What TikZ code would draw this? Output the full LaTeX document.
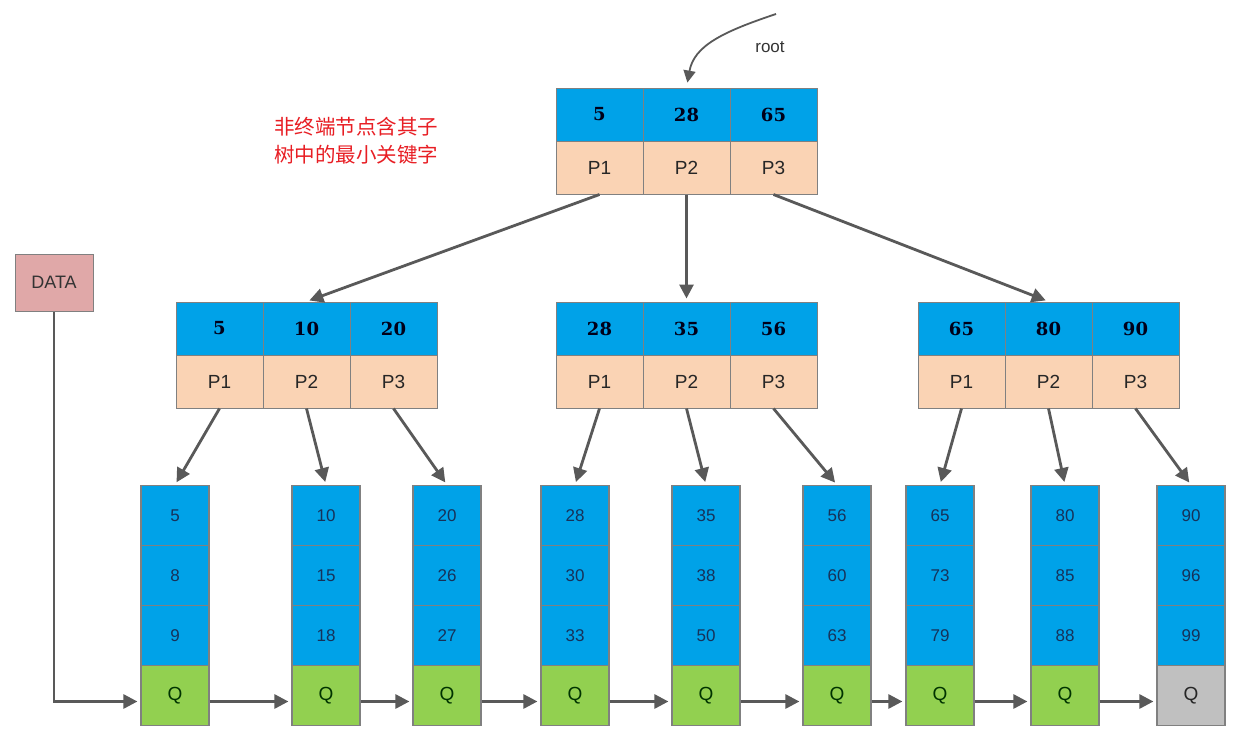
\documentclass[tikz,border=0pt]{standalone}
\usepackage{fontspec}
\setmainfont{Liberation Sans}
\newfontfamily\keyfont{DejaVu Serif}
\newfontfamily\cjk{Noto Sans CJK SC}
\usetikzlibrary{arrows.meta}
\definecolor{keyblue}{RGB}{0,162,232}
\definecolor{peach}{RGB}{250,211,180}
\definecolor{qgreen}{RGB}{146,208,80}
\definecolor{qgray}{RGB}{192,192,192}
\definecolor{edgegray}{RGB}{128,128,128}
\definecolor{arrgray}{RGB}{89,89,89}
\definecolor{datapink}{RGB}{224,168,168}
\definecolor{notered}{RGB}{232,30,36}
\definecolor{leafink}{RGB}{22,50,90}
\begin{document}
\begin{tikzpicture}[x=1pt,y=-1pt]
    \tikzstyle{every node}+=[inner sep=0pt]
    \tikzstyle{cell}=[draw=edgegray,line width=1pt,minimum width=87pt,minimum height=53pt]
    \tikzstyle{keycell}=[cell,fill=keyblue,text=black!90!blue,font=\keyfont\bfseries\fontsize{18}{21}\selectfont]
    \tikzstyle{ptrcell}=[cell,fill=peach,text=black!85,font=\fontsize{19}{22}\selectfont]
    \tikzstyle{leafcell}=[draw=edgegray,line width=1.2pt,minimum width=68pt,minimum height=60pt,fill=keyblue,text=leafink,font=\fontsize{17}{20}\selectfont]
    \tikzstyle{qcell}=[leafcell,fill=qgreen,text=black!80!green,font=\fontsize{19}{22}\selectfont]
    \tikzstyle{qlast}=[qcell,fill=qgray,text=black!85]
    \tikzstyle{arr}=[draw=arrgray,line width=2.8pt,-{Triangle[length=14pt,width=14pt]},shorten >=3pt]
    \useasboundingbox (0,0) rectangle (1237,739);
    \fill [white] (0,0) rectangle (1237,739);
    \node [keycell] (rk1) at (599.5,114.5) {5};
    \node [keycell] (rk2) at (686.5,114.5) {28};
    \node [keycell] (rk3) at (773.5,114.5) {65};
    \node [ptrcell] (rp1) at (599.5,167.5) {P1};
    \node [ptrcell] (rp2) at (686.5,167.5) {P2};
    \node [ptrcell] (rp3) at (773.5,167.5) {P3};
    \node [keycell] (ak1) at (219.5,328.5) {5};
    \node [keycell] (ak2) at (306.5,328.5) {10};
    \node [keycell] (ak3) at (393.5,328.5) {20};
    \node [ptrcell] (ap1) at (219.5,381.5) {P1};
    \node [ptrcell] (ap2) at (306.5,381.5) {P2};
    \node [ptrcell] (ap3) at (393.5,381.5) {P3};
    \node [keycell] (bk1) at (599.5,328.5) {28};
    \node [keycell] (bk2) at (686.5,328.5) {35};
    \node [keycell] (bk3) at (773.5,328.5) {56};
    \node [ptrcell] (bp1) at (599.5,381.5) {P1};
    \node [ptrcell] (bp2) at (686.5,381.5) {P2};
    \node [ptrcell] (bp3) at (773.5,381.5) {P3};
    \node [keycell] (ck1) at (961.5,328.5) {65};
    \node [keycell] (ck2) at (1048.5,328.5) {80};
    \node [keycell] (ck3) at (1135.5,328.5) {90};
    \node [ptrcell] (cp1) at (961.5,381.5) {P1};
    \node [ptrcell] (cp2) at (1048.5,381.5) {P2};
    \node [ptrcell] (cp3) at (1135.5,381.5) {P3};
    \node [leafcell] (l1a) at (175,515.5) {5};
    \node [leafcell] (l1b) at (175,575.5) {8};
    \node [leafcell] (l1c) at (175,635.5) {9};
    \node [qcell] (q1) at (175,695.5) {Q};
    \node [leafcell] (l2a) at (326,515.5) {10};
    \node [leafcell] (l2b) at (326,575.5) {15};
    \node [leafcell] (l2c) at (326,635.5) {18};
    \node [qcell] (q2) at (326,695.5) {Q};
    \node [leafcell] (l3a) at (447,515.5) {20};
    \node [leafcell] (l3b) at (447,575.5) {26};
    \node [leafcell] (l3c) at (447,635.5) {27};
    \node [qcell] (q3) at (447,695.5) {Q};
    \node [leafcell] (l4a) at (575,515.5) {28};
    \node [leafcell] (l4b) at (575,575.5) {30};
    \node [leafcell] (l4c) at (575,635.5) {33};
    \node [qcell] (q4) at (575,695.5) {Q};
    \node [leafcell] (l5a) at (706,515.5) {35};
    \node [leafcell] (l5b) at (706,575.5) {38};
    \node [leafcell] (l5c) at (706,635.5) {50};
    \node [qcell] (q5) at (706,695.5) {Q};
    \node [leafcell] (l6a) at (837,515.5) {56};
    \node [leafcell] (l6b) at (837,575.5) {60};
    \node [leafcell] (l6c) at (837,635.5) {63};
    \node [qcell] (q6) at (837,695.5) {Q};
    \node [leafcell] (l7a) at (940,515.5) {65};
    \node [leafcell] (l7b) at (940,575.5) {73};
    \node [leafcell] (l7c) at (940,635.5) {79};
    \node [qcell] (q7) at (940,695.5) {Q};
    \node [leafcell] (l8a) at (1065,515.5) {80};
    \node [leafcell] (l8b) at (1065,575.5) {85};
    \node [leafcell] (l8c) at (1065,635.5) {88};
    \node [qcell] (q8) at (1065,695.5) {Q};
    \node [leafcell] (l9a) at (1191,515.5) {90};
    \node [leafcell] (l9b) at (1191,575.5) {96};
    \node [leafcell] (l9c) at (1191,635.5) {99};
    \node [qlast] (q9) at (1191,695.5) {Q};
    \node [draw=edgegray,line width=1pt,fill=datapink,minimum width=78pt,minimum height=57pt,text=black!80,font=\fontsize{18}{21}\selectfont] (data) at (54,282.5) {DATA};
    \node [text=black!80,font=\fontsize{17}{20}\selectfont] (rootlbl) at (770,47) {root};
    \node [align=center,text=notered,font=\cjk\fontsize{20.5}{28}\selectfont] (note) at (356,141) {非终端节点含其子\\树中的最小关键字};
    \coordinate (rootin) at (776,14);
    \draw [draw=arrgray,line width=1.8pt,-{Triangle[length=12pt,width=12pt]},shorten >=5pt] (rootin) .. controls (722,32) and (694,46) .. (rk2.north);
    \draw [arr] (rp1.south) -- (ak2.north);
    \draw [arr] (rp2.south) -- (bk2.north);
    \draw [arr] (rp3.south) -- (ck2.north);
    \draw [arr] (ap1.south) -- (l1a.north);
    \draw [arr] (ap2.south) -- (l2a.north);
    \draw [arr] (ap3.south) -- (l3a.north);
    \draw [arr] (bp1.south) -- (l4a.north);
    \draw [arr] (bp2.south) -- (l5a.north);
    \draw [arr] (bp3.south) -- (l6a.north);
    \draw [arr] (cp1.south) -- (l7a.north);
    \draw [arr] (cp2.south) -- (l8a.north);
    \draw [arr] (cp3.south) -- (l9a.north);
    \draw [arr] (data.south) |- ([yshift=-6pt]q1.west);
    \draw [arr] ([yshift=-6pt]q1.east) -- ([yshift=-6pt]q2.west);
    \draw [arr] ([yshift=-6pt]q2.east) -- ([yshift=-6pt]q3.west);
    \draw [arr] ([yshift=-6pt]q3.east) -- ([yshift=-6pt]q4.west);
    \draw [arr] ([yshift=-6pt]q4.east) -- ([yshift=-6pt]q5.west);
    \draw [arr] ([yshift=-6pt]q5.east) -- ([yshift=-6pt]q6.west);
    \draw [arr] ([yshift=-6pt]q6.east) -- ([yshift=-6pt]q7.west);
    \draw [arr] ([yshift=-6pt]q7.east) -- ([yshift=-6pt]q8.west);
    \draw [arr] ([yshift=-6pt]q8.east) -- ([yshift=-6pt]q9.west);
\end{tikzpicture}
\end{document}
